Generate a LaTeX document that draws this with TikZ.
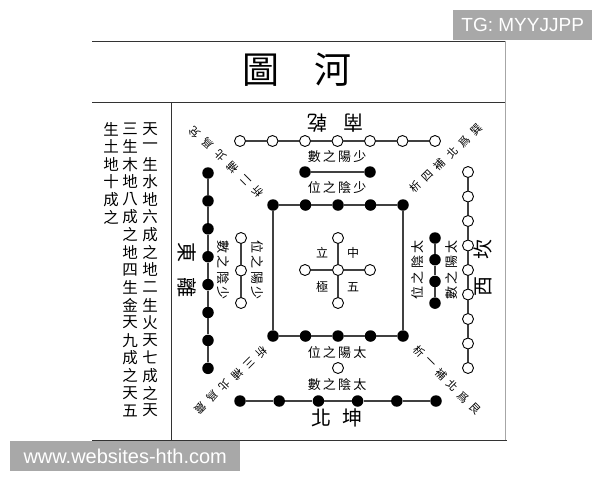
\documentclass[tikz,border=0pt]{standalone}
\usepackage{fontspec}
\setmainfont{Liberation Sans}
\newfontfamily\cjk{Noto Sans CJK TC}

\tikzset{
  wdot/.style={circle, draw=black, fill=white, line width=0.9pt, minimum size=11pt, inner sep=0pt},
  bdot/.style={circle, fill=black, minimum size=11.5pt, inner sep=0pt},
  link/.style={draw=black!75, line width=1.2pt},
  frame/.style={draw=black!80, line width=0.9pt},
  lbl/.style={font=\cjk\fontsize{13}{13}\selectfont, inner sep=0pt},
  side/.style={font=\cjk\fontsize{20}{20}\selectfont, inner sep=0pt},
  slant/.style={font=\cjk\fontsize{11}{11}\selectfont, inner sep=0pt},
  verse/.style={font=\cjk\fontsize{15.5}{15.5}\selectfont, inner sep=0pt},
  wmbox/.style={fill=black!34, text=white, inner sep=0pt, font=\fontsize{19}{19}\selectfont}
}

\begin{document}
\begin{tikzpicture}[x=1pt, y=-1pt]
  \useasboundingbox (0,0) rectangle (600,480);

  % table frame
  \draw[frame] (92,41) -- (505,41);
  \draw[frame] (92,102) -- (505,102);
  \draw[frame] (171,102) -- (171,440);
  \draw[frame] (92,440) -- (507,440);
  \draw[draw=black!35, line width=0.8pt] (505,41) -- (505,440);

  \node[font=\cjk\fontsize{37}{37}\selectfont, inner sep=0pt] (title) at (297,70) {圖\hspace{36pt}河};

  % verse columns
  \foreach \c [count=\i] in {天,一,生,水,地,六,成,之,地,二,生,火,天,七,成,之,天}
    \node[verse] (ra\i) at (150,{129+17.6*(\i-1)}) {\c};
  \foreach \c [count=\i] in {三,生,木,地,八,成,之,地,四,生,金,天,九,成,之,天,五}
    \node[verse] (rb\i) at (130,{129+17.6*(\i-1)}) {\c};
  \foreach \c [count=\i] in {生,土,地,十,成,之}
    \node[verse] (rc\i) at (111,{129+17.6*(\i-1)}) {\c};

  % south: seven white
  \foreach \i in {1,...,7}
    \node[wdot] (s\i) at ({240+32.5*(\i-1)},141) {};
  \foreach \i [count=\j from 2] in {1,...,6}
    \draw[link] (s\i) -- (s\j);
  \node[bdot] (si1) at (305,172) {};
  \node[bdot] (si2) at (370,172) {};
  \draw[link] (si1) -- (si2);

  % north: six black
  \foreach \i in {1,...,6}
    \node[bdot] (n\i) at ({240+39.2*(\i-1)},401) {};
  \foreach \i [count=\j from 2] in {1,...,5}
    \draw[link] (n\i) -- (n\j);
  \node[wdot] (ni1) at (338,368) {};

  % east: eight black
  \foreach \i in {1,...,8}
    \node[bdot] (e\i) at (208,{173+27.9*(\i-1)}) {};
  \foreach \i [count=\j from 2] in {1,...,7}
    \draw[link] (e\i) -- (e\j);
  \foreach \i in {1,...,3}
    \node[wdot] (ei\i) at (241,{238+32.5*(\i-1)}) {};
  \draw[link] (ei1) -- (ei2);
  \draw[link] (ei2) -- (ei3);

  % west: nine white
  \foreach \i in {1,...,9}
    \node[wdot] (w\i) at (468,{172+24.5*(\i-1)}) {};
  \foreach \i [count=\j from 2] in {1,...,8}
    \draw[link] (w\i) -- (w\j);
  \foreach \i in {1,...,4}
    \node[bdot] (wi\i) at (435,{238+21.7*(\i-1)}) {};
  \foreach \i [count=\j from 2] in {1,...,3}
    \draw[link] (wi\i) -- (wi\j);

  % centre: ten black, five white
  \foreach \i in {1,...,5} {
    \node[bdot] (qt\i) at ({273+32.5*(\i-1)},205) {};
    \node[bdot] (qb\i) at ({273+32.5*(\i-1)},336) {};
  }
  \foreach \i [count=\j from 2] in {1,...,4} {
    \draw[link] (qt\i) -- (qt\j);
    \draw[link] (qb\i) -- (qb\j);
  }
  \draw[link] (qt1) -- (qb1);
  \draw[link] (qt5) -- (qb5);

  \node[wdot] (c0) at (338,270) {};
  \node[wdot] (cn) at (338,238) {};
  \node[wdot] (cs) at (338,303) {};
  \node[wdot] (cw) at (305,270) {};
  \node[wdot] (ce) at (370,270) {};
  \foreach \k in {cn,cs,cw,ce}
    \draw[link] (c0) -- (\k);
  \node[lbl, font=\cjk\fontsize{12}{12}\selectfont] (tz) at (353,253) {中};
  \node[lbl, font=\cjk\fontsize{12}{12}\selectfont] (tl) at (322,253) {立};
  \node[lbl, font=\cjk\fontsize{12}{12}\selectfont] (tj) at (322,287) {極};
  \node[lbl, font=\cjk\fontsize{12}{12}\selectfont] (tw) at (353,287) {五};

  % labels
  \node[lbl] (ls1) at (337,157) {數\,之\,陽\,少};
  \node[lbl] (ls2) at (337,188) {位\,之\,陰\,少};
  \node[lbl] (ln1) at (337,353) {位\,之\,陽\,太};
  \node[lbl] (ln2) at (337,385) {數\,之\,陰\,太};
  \node[lbl, rotate=-90] (le1) at (223,270) {數\,之\,陰\,少};
  \node[lbl, rotate=-90] (le2) at (257,270) {位\,之\,陽\,少};
  \node[lbl, rotate=90] (lw1) at (418,270) {位\,之\,陰\,太};
  \node[lbl, rotate=90] (lw2) at (452,270) {數\,之\,陽\,太};

  \node[side, rotate=180] (south) at (335,123) {南\hspace{16pt}乾};
  \node[side] (north) at (337,418) {北\hspace{11pt}坤};
  \node[side, rotate=-90] (east) at (187,270) {東\hspace{15pt}離};
  \node[side, rotate=90] (west) at (483,268) {西\hspace{17pt}坎};

  % corner notes, one glyph at a time
  \foreach \c [count=\i] in {析,二,補,北,爲,兌}
    \node[slant, rotate=135] (dse\i) at ({258-12.6*(\i-1)},{192-12*(\i-1)}) {\c};
  \foreach \c [count=\i] in {析,四,補,北,爲,巽}
    \node[slant, rotate=45] (dsw\i) at ({415+12.4*(\i-1)},{187-11.4*(\i-1)}) {\c};
  \foreach \c [count=\i] in {析,三,補,北,爲,震}
    \node[slant, rotate=-135] (dne\i) at ({262-12.4*(\i-1)},{352+11.2*(\i-1)}) {\c};
  \foreach \c [count=\i] in {析,一,補,北,爲,艮}
    \node[slant, rotate=-45] (dnw\i) at ({419+11.2*(\i-1)},{351+11.6*(\i-1)}) {\c};

  % overlays
  \node[wmbox, minimum width=139pt, minimum height=30pt, anchor=north west] (tg) at (453,10) {TG: MYYJJPP};
  \node[wmbox, font=\fontsize{20}{20}\selectfont, minimum width=230pt, minimum height=30pt, anchor=north west] (site) at (10,441) {www.websites-hth.com};
\end{tikzpicture}
\end{document}
